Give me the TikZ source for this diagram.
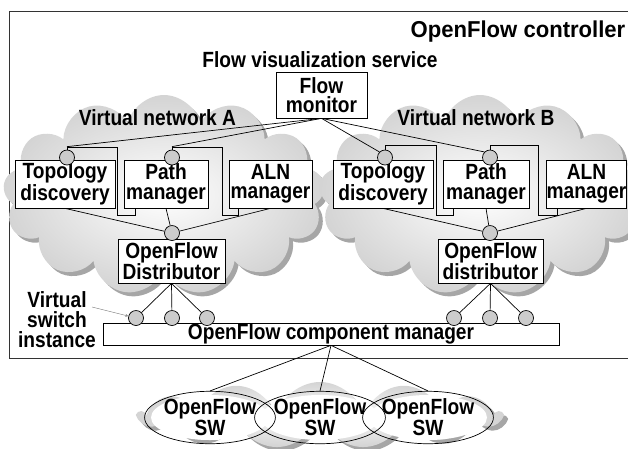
\documentclass[tikz,border=0pt]{standalone}
\usepackage{fontspec}
\setmainfont{Liberation Sans}[FakeStretch=0.87]
\newfontfamily\titlefont{Liberation Sans}[FakeStretch=0.96]
\usetikzlibrary{shapes.symbols,shapes.geometric,shadows,positioning}

\begin{document}
\begin{tikzpicture}[x=1pt, y=-1pt, line width=0.7pt,
  font=\bfseries\fontsize{22}{19.5}\selectfont,
  box/.style={draw, fill=white, inner sep=0pt, align=center, minimum height=48pt},
  port/.style={draw, circle, fill=gray!40, minimum size=15pt, inner sep=0pt},
  net/.style={cloud, cloud puffs=13, cloud ignores aspect, draw=none,
    inner color=white, outer color=gray!34,
    drop shadow={shadow xshift=4pt, shadow yshift=-4pt, fill=gray!70, opacity=1}},
  sw/.style={draw, ellipse, inner sep=0pt, minimum width=118pt, minimum height=45pt, align=center}]
\useasboundingbox (0,0) rectangle (628,448);
\clip (0,0) rectangle (628,448);

% controller frame
\draw[black!80] (9,11) rectangle (640,358);
\node[anchor=base east, font=\titlefont\bfseries\fontsize{23}{23}\selectfont] (ctrl) at (629,37) {OpenFlow controller};

% virtual networks
\node[net, minimum width=322pt, minimum height=200pt] (netA) at (164,195) {};
\node[net, minimum width=322pt, minimum height=200pt] (netB) at (480,195) {};
\node[net, minimum width=360pt, minimum height=66pt] (netSW) at (320,415) {};

\node[anchor=base] (vis) at (320,67) {Flow visualization service};
\node[box, minimum width=91pt, minimum height=46pt] (mon) at (321.5,95) {Flow\\monitor};
\node[anchor=base] (labA) at (157.5,125) {Virtual network A};
\node[anchor=base] (labB) at (476,125) {Virtual network B};

% applications
\node[box, minimum width=100pt] (topoA) at (65,184) {Topology\\discovery};
\node[box, minimum width=84pt] (pathA) at (166,184) {Path\\manager};
\node[box, minimum width=83pt] (alnA) at (270.5,184) {ALN\\manager};
\node[box, minimum width=100pt] (topoB) at (383,184) {Topology\\discovery};
\node[box, minimum width=86pt] (pathB) at (486,184) {Path\\manager};
\node[box, minimum width=80pt] (alnB) at (586.5,184) {ALN\\manager};

\node[port] (pTopoA) at (67,157.5) {};
\node[port] (pPathA) at (172,157.5) {};
\node[port] (pTopoB) at (385,157.5) {};
\node[port] (pPathB) at (490,157.5) {};

% distributors
\node[box, minimum width=107pt, minimum height=44pt] (distA) at (171.5,261) {OpenFlow\\Distributor};
\node[box, minimum width=105pt, minimum height=44pt] (distB) at (490.5,261) {OpenFlow\\distributor};
\node[port] (pDistA) at (172,233) {};
\node[port] (pDistB) at (490,233) {};

% component manager and switch instances
\node[box, minimum width=456pt, minimum height=22pt] (cm) at (331,334) {OpenFlow component manager};
\foreach \x [count=\i] in {136,172,207} \node[port] (vsA\i) at (\x,318) {};
\foreach \x [count=\i] in {454,490,526} \node[port] (vsB\i) at (\x,318) {};

\node[align=center, font=\bfseries\fontsize{22}{20}\selectfont] (vsi) at (57,320) {Virtual\\switch\\instance};
\coordinate (vsiTip) at (92,307);
\draw[->, >=stealth, gray, line width=0.4pt] (vsiTip) -- (vsA1);

% monitor links
\draw (mon.south) -- ([yshift=3pt]pTopoA.north);
\draw (mon.south) -- ([yshift=3pt]pPathA.north);
\draw (mon.south) -- (pTopoB.north west);
\draw (mon.south) -- (pPathB.north west);

% port brackets
\draw (pTopoA.north) |- (117,147) -- (117,215) -| ([xshift=-31pt]pathA.south);
\draw (pPathA.north) |- (222,147) -- (222,215) -| ([xshift=-32.5pt]alnA.south);
\draw (pTopoB.north) |- (436,145) -- (436,215) -| ([xshift=-33pt]pathB.south);
\draw (pPathB.north) |- (538,145) -- (538,215) -| ([xshift=-29.5pt]alnB.south);

\foreach \n in {topoA,pathA,alnA} \draw (\n.south) -- (pDistA);
\foreach \n in {topoB,pathB,alnB} \draw (\n.south) -- (pDistB);
\foreach \i in {1,2,3} {
  \draw (distA.south) -- (vsA\i);
  \draw (distB.south) -- (vsB\i);
}

% OpenFlow switches
\foreach \x in {210,320,428} \fill[white] (\x,417.5) ellipse (59pt and 22.5pt);
\node[sw] (swA) at (210,417.5) {OpenFlow\\SW};
\node[sw] (swB) at (320,417.5) {OpenFlow\\SW};
\node[sw] (swC) at (428,417.5) {OpenFlow\\SW};
\foreach \n in {swA,swB,swC} \draw (cm.south) -- (\n.north);
\end{tikzpicture}
\end{document}
